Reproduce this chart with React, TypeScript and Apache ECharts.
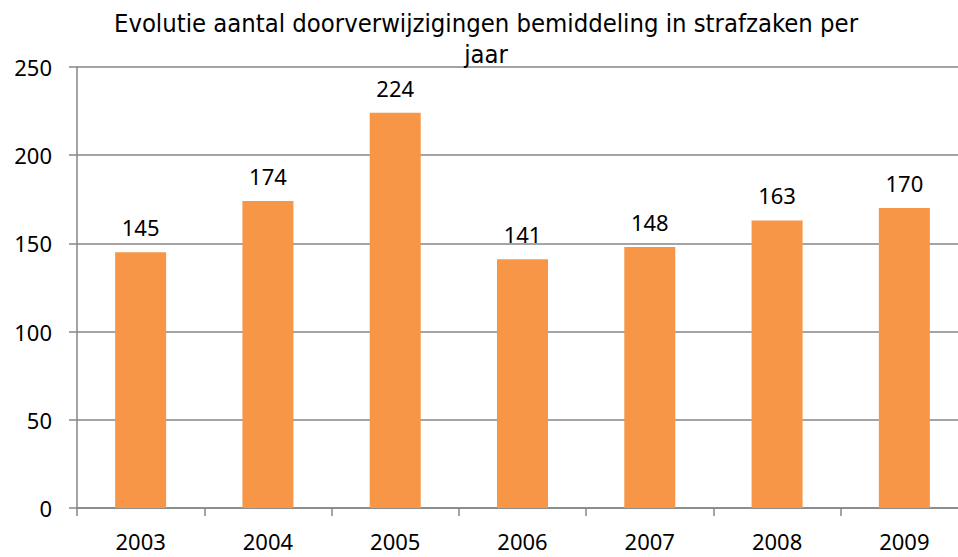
import React, { useEffect, useRef } from "react";
import * as echarts from "echarts";

const years = ["2003", "2004", "2005", "2006", "2007", "2008", "2009"];
const counts = [145, 174, 224, 141, 148, 163, 170];
const titleText = "Evolutie aantal doorverwijzigingen bemiddeling in strafzaken per\njaar";

export default function App() {
  const ref = useRef<HTMLDivElement>(null);
  useEffect(() => {
    const chart = echarts.init(ref.current!, null, { renderer: "svg" });
    chart.setOption({
      animation: false,
      backgroundColor: "#ffffff",
      title: {
        text: titleText,
        left: 481,
        top: 2,
        textAlign: "center",
        textStyle: {
          fontFamily: "DejaVu Sans Condensed",
          fontWeight: "normal",
          fontSize: 25.4,
          lineHeight: 31,
          color: "#000",
        },
      },
      grid: { left: 77, top: 67, width: 891, height: 441, containLabel: false },
      xAxis: {
        type: "category",
        data: years,
        axisLine: { lineStyle: { color: "#868686", width: 1.5 } },
        axisTick: { show: true, length: 8, interval: 0, lineStyle: { color: "#868686", width: 1.5 } },
        axisLabel: { color: "#000", fontSize: 22, fontFamily: "Noto Sans", margin: 22 },
      },
      yAxis: {
        type: "value",
        min: 0,
        max: 250,
        interval: 50,
        axisLine: { show: true, lineStyle: { color: "#868686", width: 1.5 } },
        axisTick: { show: true, length: 8, lineStyle: { color: "#868686", width: 1.5 } },
        splitLine: { lineStyle: { color: "#868686", width: 1.5 } },
        axisLabel: { color: "#000", fontSize: 22, fontFamily: "Noto Sans", margin: 25 },
      },
      series: [
        {
          type: "bar",
          data: counts,
          barWidth: 51,
          itemStyle: { color: "#F79646" },
          label: {
            show: true,
            position: "top",
            distance: 14,
            color: "#000",
            fontSize: 22,
            fontFamily: "Noto Sans",
          },
        },
      ],
    });
    return () => chart.dispose();
  }, []);
  return (
    <div style={{ position: "absolute", left: 0, top: 0, width: 958, height: 557, overflow: "hidden" }}>
      <div ref={ref} style={{ width: 990, height: 557 }} />
    </div>
  );
}
